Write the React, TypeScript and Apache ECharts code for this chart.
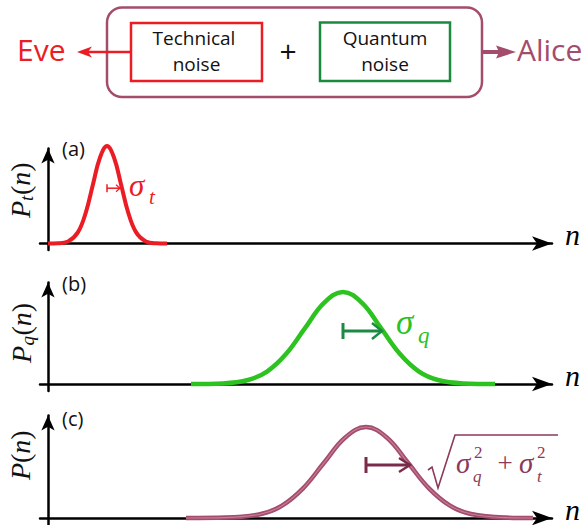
import React, { useEffect, useRef } from "react";
import * as echarts from "echarts";

// ---- data ----
const panelLabels = ["(a)", "(b)", "(c)"];
const techX = [0, 10, 20, 30, 38, 45, 52, 59, 66, 73, 80, 88, 98, 108, 119];
const techY = [0, 0.002, 0.02, 0.113, 0.315, 0.589, 0.856, 0.97, 0.856, 0.589, 0.315, 0.113, 0.02, 0.002, 0];
const quantX = [143, 175, 200, 219, 238, 257, 276, 295, 314, 333, 352, 371, 390, 415, 447];
const quantY = [0, 0.006, 0.04, 0.124, 0.299, 0.558, 0.811, 0.92, 0.811, 0.558, 0.299, 0.124, 0.04, 0.006, 0];
const totalX = [138, 178, 213, 234, 255, 276, 297, 318, 339, 360, 381, 402, 423, 458, 485];
const totalY = [0, 0.004, 0.04, 0.123, 0.296, 0.552, 0.803, 0.91, 0.803, 0.552, 0.296, 0.123, 0.04, 0.004, 0];
const sigmaFrom = [59, 295, 318];
const sigmaTo = [72, 334, 362];
const sigmaLevel = [0.55, 0.53, 0.53];

const RED = "#ec1c24";
const GREEN_BOX = "#1b8a3c";
const GREEN = "#2cc21f";
const MAUVE = "#a34c6b";
const SANS = "'Open Sans', sans-serif";
const SERIF = "'Liberation Serif', 'DejaVu Serif', serif";

export default function App() {
  const ref = useRef<HTMLDivElement>(null);
  useEffect(() => {
    if (!ref.current) return;
    const chart = echarts.init(ref.current, null, { renderer: "svg" });
    const grids = [
      { left: 40, right: 35, top: 148.5, height: 101.5 },
      { left: 40, right: 35, top: 282.5, height: 108.5 },
      { left: 40, right: 35, top: 415.5, height: 109.5 },
    ];
    const yRanges = [
      [-0.065, 0.945],
      [-0.07, 1.015],
      [-0.07, 1.025],
    ];
    const axisLineStyle = { color: "#000", width: 2.5 };
    const curves = [
      { x: techX, y: techY, color: RED, w: 4 },
      { x: quantX, y: quantY, color: GREEN, w: 4.5 },
      { x: totalX, y: totalY, color: MAUVE, w: 4.5 },
    ];
    chart.setOption({
      animation: false,
      grid: grids,
      xAxis: grids.map((_, i) => ({
        type: "value",
        gridIndex: i,
        min: -8,
        max: 504,
        axisLine: { show: true, onZero: true, symbol: ["none", "arrow"], symbolSize: [11, 20], lineStyle: axisLineStyle },
        axisTick: { show: false },
        axisLabel: { show: false },
        splitLine: { show: false },
      })),
      yAxis: grids.map((_, i) => ({
        type: "value",
        gridIndex: i,
        min: yRanges[i][0],
        max: yRanges[i][1],
        axisLine: { show: true, onZero: true, symbol: ["none", "arrow"], symbolSize: [10, 15], lineStyle: axisLineStyle },
        axisTick: { show: false },
        axisLabel: { show: false },
        splitLine: { show: false },
      })),
      series: [
        ...curves.map((c, i) => ({
          type: "line",
          xAxisIndex: i,
          yAxisIndex: i,
          data: c.x.map((v, k) => [v, c.y[k]]),
          smooth: 0.4,
          showSymbol: false,
          clip: false,
          lineStyle: { color: c.color, width: c.w },
          z: 3,
        })),
        {
          type: "line",
          xAxisIndex: 2,
          yAxisIndex: 2,
          data: totalX.map((v, k) => [v, totalY[k]]),
          smooth: 0.4,
          showSymbol: false,
          clip: false,
          lineStyle: { color: "#c57d98", width: 1.2 },
          z: 4,
        },
      ],
    });

    const txt = (text: string, x: number, y: number, size: number, color: string, o: any = {}) => ({
      type: "text",
      x,
      y,
      z: 10,
      style: {
        text,
        fontSize: size,
        fontFamily: o.family || SANS,
        fontStyle: o.italic ? "italic" : "normal",
        fill: color,
        align: o.align || "left",
        verticalAlign: "middle",
      },
    });
    const seg = (pts: number[][], color: string, w: number) => ({
      type: "polyline",
      z: 10,
      shape: { points: pts },
      style: { stroke: color, lineWidth: w, fill: "none", lineCap: "butt", lineJoin: "miter" },
    });

    const elements: any[] = [];
    // top block diagram
    elements.push({ type: "rect", z: 5, shape: { x: 107, y: 7.5, width: 375, height: 89.5, r: 15 }, style: { fill: "none", stroke: MAUVE, lineWidth: 2.5 } });
    elements.push({ type: "rect", z: 5, shape: { x: 131, y: 23, width: 131, height: 58 }, style: { fill: "none", stroke: RED, lineWidth: 2.5 } });
    elements.push({ type: "rect", z: 5, shape: { x: 320, y: 22.5, width: 130, height: 58.5 }, style: { fill: "none", stroke: GREEN_BOX, lineWidth: 2.5 } });
    elements.push(txt("Technical", 194, 38, 19, "#111", { align: "center" }));
    elements.push(txt("noise", 196.5, 64, 19, "#111", { align: "center" }));
    elements.push(txt("Quantum", 385, 38, 19, "#111", { align: "center" }));
    elements.push(txt("noise", 385, 64, 19, "#111", { align: "center" }));
    elements.push(txt("+", 288, 50, 30, "#111", { align: "center" }));
    elements.push(txt("Eve", 17, 49, 30, RED));
    elements.push(txt("Alice", 517, 49, 30, MAUVE));
    // Eve arrow
    elements.push(seg([[131, 52], [87, 52]], RED, 2.5));
    elements.push({ type: "polygon", z: 10, shape: { points: [[77, 52], [92, 46.5], [88, 52], [92, 57.5]] }, style: { fill: RED } });
    // Alice arrow
    elements.push(seg([[481, 52], [500, 52]], MAUVE, 4));
    elements.push({ type: "polygon", z: 10, shape: { points: [[516, 52], [496, 45.5], [499, 52], [496, 58.5]] }, style: { fill: MAUVE } });

    // panel labels
    const labelPos = [[62, 148], [62, 283], [62, 418]];
    panelLabels.forEach((l, i) => elements.push(txt(l, labelPos[i][0], labelPos[i][1], 20, "#111")));
    // n labels
    const nY = [234, 375, 509];
    nY.forEach((y) => elements.push(txt("n", 565, y, 30, "#000", { family: SERIF, italic: true })));

    // rotated y labels
    const ylab = (cx: number, cy: number, parts: any[]) => ({
      type: "group",
      x: cx,
      y: cy,
      rotation: Math.PI / 2,
      z: 10,
      children: parts.map((p) => ({
        type: "text",
        x: p[1],
        y: p[2],
        style: {
          text: p[0],
          fontSize: p[3],
          fontFamily: SERIF,
          fontStyle: p[4] ? "italic" : "normal",
          fill: "#111",
          align: "left",
          verticalAlign: "middle",
        },
      })),
    });
    elements.push(ylab(20, 190, [["P", -28, 0, 28, true], ["t", -11, 6, 19, true], ["(", -5, 0, 28, false], ["n", 4.3, 0, 28, true], [")", 18.3, 0, 28, false]]));
    elements.push(ylab(21, 333, [["P", -30, 0, 28, true], ["q", -12.5, 6, 19, true], ["(", -2.5, 0, 28, false], ["n", 6.8, 0, 28, true], [")", 20.8, 0, 28, false]]));
    elements.push(ylab(20, 455, [["P", -25, 0, 28, true], ["(", -8, 0, 28, false], ["n", 1.3, 0, 28, true], [")", 15.3, 0, 28, false]]));

    // sigma arrows via axes
    const arrowStyle = [
      { color: RED, w: 1.5, bar: 4, back: 4, half: 3.5 },
      { color: "#1a8a45", w: 3, bar: 8, back: 10, half: 8 },
      { color: "#7a2b4a", w: 3, bar: 8, back: 11, half: 7 },
    ];
    sigmaFrom.forEach((f, i) => {
      const p1 = chart.convertToPixel({ gridIndex: i }, [f, sigmaLevel[i]]) as number[];
      const p2 = chart.convertToPixel({ gridIndex: i }, [sigmaTo[i], sigmaLevel[i]]) as number[];
      const s = arrowStyle[i];
      elements.push(seg([p1, p2], s.color, s.w));
      elements.push(seg([[p1[0], p1[1] - s.bar], [p1[0], p1[1] + s.bar]], s.color, s.w));
      elements.push(seg([[p2[0] - s.back, p2[1] - s.half], p2, [p2[0] - s.back, p2[1] + s.half]], s.color, s.w * 0.8));
    });

    // sigma labels
    elements.push(txt("σ", 129, 185, 31, RED, { family: SERIF, italic: true }));
    elements.push(txt("t", 149, 197, 21, RED, { family: SERIF, italic: true }));
    elements.push(txt("σ", 396, 322, 35, GREEN, { family: SERIF, italic: true }));
    elements.push(txt("q", 418, 335, 23, GREEN, { family: SERIF, italic: true }));
    const MT = "#8a3a5a";
    elements.push(seg([[428, 470], [432, 467], [438, 488], [455, 435], [558, 435]], MT, 1.6));
    elements.push(txt("σ", 456, 463, 29, MT, { family: SERIF, italic: true }));
    elements.push(txt("2", 474, 452, 17, MT, { family: SERIF }));
    elements.push(txt("q", 473, 476, 17, MT, { family: SERIF, italic: true }));
    elements.push(txt("+", 505, 463, 27, MT, { family: SERIF, align: "center" }));
    elements.push(txt("σ", 519, 463, 29, MT, { family: SERIF, italic: true }));
    elements.push(txt("2", 537, 452, 17, MT, { family: SERIF }));
    elements.push(txt("t", 537, 476, 17, MT, { family: SERIF, italic: true }));

    chart.setOption({ graphic: { elements } });
    return () => chart.dispose();
  }, []);
  return <div ref={ref} style={{ position: "fixed", left: 0, top: 0, width: 587, height: 525, background: "#fff" }} />;
}
